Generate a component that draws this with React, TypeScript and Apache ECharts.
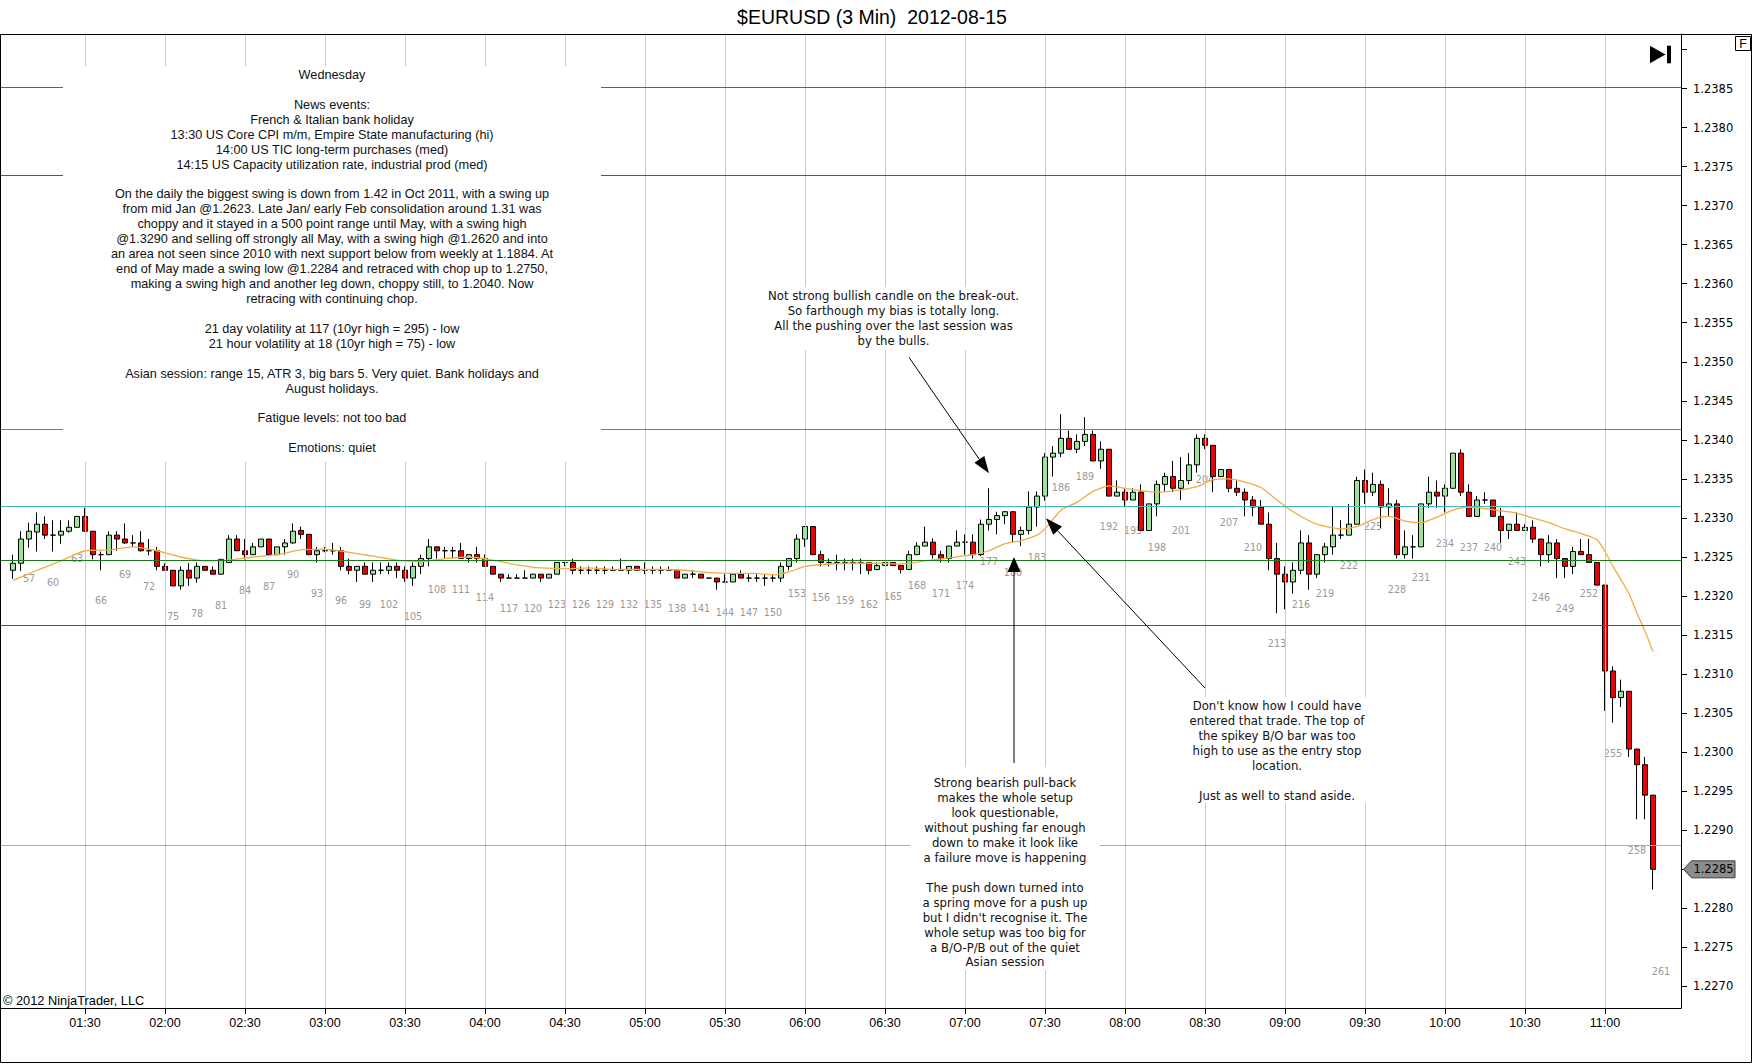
import React, { useEffect, useRef } from "react";
import * as echarts from "echarts";

// ---------- data ----------
const FIRST_BAR = 55; // bar number of OPEN[0]
const FIRST_CAT_BAR = 54; // bar number of first category
const CAT_COUNT = 210; // bars 54 .. 263
const START_MINUTES = 60; // 01:00 at bar 54
const BAR_MINUTES = 3;

const OPEN = [
  1.23233, 1.23242, 1.23273, 1.23282, 1.23292, 1.23278, 1.23278, 1.23283, 1.23288, 1.23302,
  1.23283, 1.23253, 1.23253, 1.23278, 1.23273, 1.23268, 1.23268, 1.23258, 1.23258, 1.23238,
  1.23233, 1.23213, 1.23233, 1.23223, 1.23238, 1.23233, 1.23228, 1.23243, 1.23273, 1.23258,
  1.23253, 1.23263, 1.23273, 1.23253, 1.23263, 1.23268, 1.23284, 1.23279, 1.23253, 1.23258,
  1.23258, 1.23258, 1.23238, 1.23233, 1.23238, 1.23228, 1.23233, 1.23233, 1.23238, 1.23233,
  1.23223, 1.23238, 1.23248, 1.23263, 1.23258, 1.23258, 1.23258, 1.23248, 1.23253, 1.23248,
  1.23238, 1.23228, 1.23223, 1.23223, 1.23223, 1.23223, 1.23228, 1.23223, 1.23228, 1.23243,
  1.23243, 1.23233, 1.23233, 1.23233, 1.23233, 1.23233, 1.23233, 1.23233, 1.23238, 1.23233,
  1.23233, 1.23233, 1.23233, 1.23233, 1.23223, 1.23228, 1.23228, 1.23223, 1.23223, 1.23218,
  1.23218, 1.23228, 1.23223, 1.23223, 1.23223, 1.23223, 1.23223, 1.23238, 1.23248, 1.23273,
  1.23289, 1.23253, 1.23243, 1.23243, 1.23243, 1.23243, 1.23243, 1.23243, 1.23234, 1.23239,
  1.23243, 1.23239, 1.23234, 1.23253, 1.23264, 1.23269, 1.23253, 1.23248, 1.23264, 1.23269,
  1.23269, 1.23253, 1.23292, 1.23298, 1.23303, 1.23308, 1.23279, 1.23284, 1.23314, 1.23328,
  1.23378, 1.23383, 1.23402, 1.23388, 1.23398, 1.23407, 1.23373, 1.23388, 1.23328, 1.23333,
  1.23323, 1.23333, 1.23284, 1.23318, 1.23343, 1.23353, 1.23338, 1.23348, 1.23368, 1.23402,
  1.23393, 1.23353, 1.23362, 1.23338, 1.23333, 1.23323, 1.23314, 1.23292, 1.23248, 1.23228,
  1.23218, 1.23233, 1.23268, 1.23228, 1.23253, 1.23263, 1.23278, 1.23278, 1.23292, 1.23348,
  1.23333, 1.23343, 1.23314, 1.23318, 1.23253, 1.23263, 1.23263, 1.23318, 1.23333, 1.23328,
  1.23338, 1.23383, 1.23333, 1.23302, 1.23323, 1.23323, 1.23302, 1.23284, 1.23292, 1.23284,
  1.23288, 1.23273, 1.23253, 1.23268, 1.23248, 1.23238, 1.23257, 1.23253, 1.23243, 1.23214,
  1.23104, 1.2307, 1.23078, 1.23004, 1.22984, 1.22945,
];

const CLOSE = [
  1.23242, 1.23273, 1.23283, 1.23292, 1.23278, 1.23278, 1.23283, 1.23288, 1.23302, 1.23283,
  1.23253, 1.23253, 1.23278, 1.23273, 1.23268, 1.23268, 1.23258, 1.23258, 1.23238, 1.23233,
  1.23213, 1.23233, 1.23223, 1.23238, 1.23233, 1.23228, 1.23247, 1.23273, 1.23258, 1.23253,
  1.23263, 1.23273, 1.23253, 1.23263, 1.23268, 1.23283, 1.23279, 1.23253, 1.23258, 1.23258,
  1.23258, 1.23238, 1.23233, 1.23238, 1.23228, 1.23233, 1.23233, 1.23238, 1.23233, 1.23223,
  1.23238, 1.23248, 1.23263, 1.23258, 1.23258, 1.23258, 1.23248, 1.23253, 1.23248, 1.23238,
  1.23228, 1.23223, 1.23223, 1.23223, 1.23223, 1.23228, 1.23223, 1.23228, 1.23243, 1.23243,
  1.23233, 1.23233, 1.23233, 1.23233, 1.23233, 1.23233, 1.23233, 1.23238, 1.23233, 1.23233,
  1.23233, 1.23233, 1.23233, 1.23223, 1.23228, 1.23228, 1.23223, 1.23223, 1.23218, 1.23218,
  1.23228, 1.23223, 1.23223, 1.23223, 1.23223, 1.23223, 1.23238, 1.23248, 1.23273, 1.23289,
  1.23253, 1.23243, 1.23243, 1.23243, 1.23243, 1.23243, 1.23243, 1.23233, 1.23239, 1.23243,
  1.23239, 1.23234, 1.23253, 1.23264, 1.23269, 1.23253, 1.23248, 1.23264, 1.23269, 1.23269,
  1.23253, 1.23292, 1.23298, 1.23303, 1.23308, 1.23279, 1.23284, 1.23314, 1.23328, 1.23378,
  1.23383, 1.23402, 1.23388, 1.23398, 1.23407, 1.23373, 1.23388, 1.23328, 1.23333, 1.23323,
  1.23333, 1.23284, 1.23318, 1.23343, 1.23353, 1.23338, 1.23348, 1.23368, 1.23402, 1.23393,
  1.23353, 1.23362, 1.23338, 1.23333, 1.23323, 1.23314, 1.23292, 1.23248, 1.23228, 1.23218,
  1.23233, 1.23268, 1.23228, 1.23253, 1.23263, 1.23278, 1.23278, 1.23292, 1.23348, 1.23333,
  1.23343, 1.23314, 1.23318, 1.23253, 1.23263, 1.23263, 1.23318, 1.23333, 1.23328, 1.23338,
  1.23383, 1.23333, 1.23302, 1.23323, 1.23323, 1.23302, 1.23284, 1.23292, 1.23284, 1.23288,
  1.23273, 1.23253, 1.23268, 1.23248, 1.23238, 1.23257, 1.23253, 1.23243, 1.23214, 1.23104,
  1.2307, 1.23078, 1.23004, 1.22984, 1.22945, 1.2285,
];

const HIGH = [
  1.23253, 1.23283, 1.23294, 1.23307, 1.23302, 1.23297, 1.23297, 1.23297, 1.23302, 1.23313,
  1.23283, 1.23257, 1.23283, 1.23283, 1.23293, 1.23278, 1.23283, 1.23273, 1.23263, 1.23242,
  1.23233, 1.23238, 1.23242, 1.23243, 1.23238, 1.23238, 1.23247, 1.23278, 1.23278, 1.23273,
  1.23268, 1.23273, 1.23273, 1.23263, 1.23273, 1.23293, 1.23289, 1.23279, 1.23263, 1.23263,
  1.23268, 1.23263, 1.23248, 1.23238, 1.23243, 1.23243, 1.23243, 1.23243, 1.23243, 1.23238,
  1.23243, 1.23253, 1.23273, 1.23263, 1.23263, 1.23263, 1.23268, 1.23253, 1.23263, 1.23253,
  1.23238, 1.23228, 1.23228, 1.23228, 1.23233, 1.23228, 1.23228, 1.23228, 1.23243, 1.23243,
  1.23248, 1.23238, 1.23238, 1.23238, 1.23238, 1.23238, 1.23248, 1.23238, 1.23238, 1.23243,
  1.23238, 1.23238, 1.23238, 1.23233, 1.23228, 1.23233, 1.23228, 1.23223, 1.23223, 1.23228,
  1.23228, 1.23233, 1.23228, 1.23228, 1.23228, 1.23228, 1.23243, 1.23248, 1.23279, 1.23289,
  1.23289, 1.23258, 1.23248, 1.23253, 1.23248, 1.23248, 1.23248, 1.23243, 1.23243, 1.23243,
  1.23243, 1.23239, 1.23258, 1.23269, 1.23289, 1.23274, 1.23258, 1.23264, 1.23284, 1.23279,
  1.23279, 1.23298, 1.23338, 1.23308, 1.23308, 1.23308, 1.23289, 1.23334, 1.23334, 1.23383,
  1.23392, 1.23433, 1.23412, 1.23407, 1.23429, 1.23412, 1.23398, 1.23388, 1.23348, 1.23338,
  1.23338, 1.23343, 1.23318, 1.23348, 1.23358, 1.23373, 1.23378, 1.23383, 1.23407, 1.23407,
  1.23393, 1.23362, 1.23362, 1.23348, 1.23338, 1.23328, 1.23323, 1.23307, 1.23268, 1.23238,
  1.23243, 1.23284, 1.23278, 1.23253, 1.23268, 1.23314, 1.23297, 1.23318, 1.23353, 1.23362,
  1.23358, 1.23348, 1.23338, 1.23323, 1.23284, 1.23278, 1.23318, 1.23353, 1.23348, 1.23343,
  1.23383, 1.23388, 1.23343, 1.23328, 1.23333, 1.23323, 1.23313, 1.23292, 1.23307, 1.23292,
  1.23297, 1.23273, 1.23278, 1.23273, 1.23248, 1.23263, 1.23273, 1.23273, 1.23243, 1.23214,
  1.2311, 1.23093, 1.23078, 1.23004, 1.22994, 1.22945,
];

const LOW = [
  1.23222, 1.23232, 1.23262, 1.23257, 1.23273, 1.23257, 1.23267, 1.23281, 1.23288, 1.23283,
  1.23247, 1.23233, 1.23253, 1.23258, 1.23267, 1.23263, 1.23257, 1.23252, 1.23233, 1.23233,
  1.23213, 1.23208, 1.23213, 1.23217, 1.23233, 1.23228, 1.23227, 1.23242, 1.23258, 1.23247,
  1.23253, 1.23263, 1.23252, 1.23253, 1.23253, 1.23267, 1.23273, 1.23253, 1.23243, 1.23256,
  1.23253, 1.23233, 1.23228, 1.23218, 1.23228, 1.23218, 1.23228, 1.23228, 1.23223, 1.23218,
  1.23213, 1.23228, 1.23238, 1.23248, 1.23248, 1.23248, 1.23248, 1.23243, 1.23243, 1.23238,
  1.23228, 1.23218, 1.23223, 1.23223, 1.23223, 1.23223, 1.23218, 1.23223, 1.23228, 1.23238,
  1.23228, 1.23228, 1.23228, 1.23228, 1.23228, 1.23233, 1.23233, 1.23228, 1.23233, 1.23228,
  1.23228, 1.23228, 1.23233, 1.23223, 1.23223, 1.23223, 1.23223, 1.23223, 1.23208, 1.23218,
  1.23218, 1.23223, 1.23218, 1.23218, 1.23213, 1.23218, 1.23218, 1.23233, 1.23243, 1.23263,
  1.23253, 1.23238, 1.23238, 1.23233, 1.23233, 1.23233, 1.23228, 1.23228, 1.23233, 1.23239,
  1.23239, 1.23229, 1.23234, 1.23253, 1.23264, 1.23248, 1.23243, 1.23243, 1.23264, 1.23253,
  1.23248, 1.23251, 1.23284, 1.23279, 1.23292, 1.23269, 1.23264, 1.23279, 1.23289, 1.23322,
  1.23353, 1.23378, 1.23388, 1.23383, 1.23392, 1.23373, 1.23363, 1.23328, 1.23328, 1.23314,
  1.23323, 1.23284, 1.23284, 1.23302, 1.23334, 1.23333, 1.23323, 1.23343, 1.23358, 1.23388,
  1.23333, 1.23353, 1.23333, 1.23328, 1.23302, 1.23302, 1.23292, 1.23233, 1.23178, 1.23183,
  1.23203, 1.23228, 1.23208, 1.23223, 1.23243, 1.23253, 1.23273, 1.23278, 1.23292, 1.23318,
  1.23328, 1.23287, 1.23302, 1.23248, 1.23248, 1.23248, 1.23263, 1.23313, 1.23313, 1.23307,
  1.23338, 1.23328, 1.23302, 1.23302, 1.23318, 1.23302, 1.23268, 1.23273, 1.23284, 1.23284,
  1.23268, 1.23238, 1.23243, 1.23223, 1.23223, 1.23228, 1.23253, 1.23243, 1.23214, 1.23053,
  1.23038, 1.23058, 1.22994, 1.22914, 1.22914, 1.22824,
];

// moving average (orange) at these bars
const MA_BARS = [
  55, 58, 61, 64, 67, 70, 73, 76, 79, 82, 85, 88, 91, 94, 97, 100, 103, 106, 109, 112, 115, 118,
  121, 124, 127, 130, 133, 136, 139, 142, 145, 148, 150, 152, 154, 157, 160, 163, 166, 169, 172,
  175, 177, 179, 181, 183, 184, 186, 188, 190, 192, 194, 196, 198, 201, 203, 205, 207, 209, 211,
  213, 215, 218, 221, 223, 225, 227, 229, 231, 233, 235, 237, 239, 241, 243, 245, 247, 249, 251,
  253, 254, 255, 256, 257, 258, 259, 260,
];
const MA_VALUES = [
  1.2322, 1.23233, 1.23245, 1.23258, 1.23259, 1.23263, 1.23258, 1.2325, 1.23245, 1.23246, 1.2325,
  1.23253, 1.23259, 1.2326, 1.23256, 1.23251, 1.23246, 1.23244, 1.23248, 1.2325, 1.23246, 1.2324,
  1.23236, 1.23235, 1.23236, 1.23234, 1.23234, 1.23234, 1.23233, 1.2323, 1.23229, 1.23229,
  1.23227, 1.23231, 1.23238, 1.23241, 1.23242, 1.23242, 1.23241, 1.23245, 1.23249, 1.23253,
  1.23258, 1.23267, 1.23271, 1.23278, 1.23286, 1.2331, 1.2332, 1.23334, 1.23341, 1.23338,
  1.23335, 1.23333, 1.23336, 1.2334, 1.23349, 1.2335, 1.23346, 1.23339, 1.23323, 1.23308,
  1.23292, 1.23286, 1.23289, 1.23298, 1.23302, 1.23296, 1.23294, 1.23301, 1.2331, 1.23314,
  1.23312, 1.23309, 1.23306, 1.233, 1.23294, 1.23286, 1.2328, 1.23272, 1.23257, 1.23238,
  1.23221, 1.23203, 1.23178, 1.23155, 1.23129,
];

// horizontal drawn levels
const H_LEVELS = [1.23852, 1.23739, 1.23414, 1.23315, 1.23246, 1.23163, 1.22881];
const H_COLORS = ["#238a35", "#237a2b", "#2f9d8c", "#46b8b4", "#1f7a1f", "#1f7a1f", "#86d82e"];

// y axis ticks / labels
const Y_TICKS = [
  1.227, 1.2275, 1.228, 1.2285, 1.229, 1.2295, 1.23, 1.2305, 1.231, 1.2315, 1.232, 1.2325, 1.233,
  1.2335, 1.234, 1.2345, 1.235, 1.2355, 1.236, 1.2365, 1.237, 1.2375, 1.238, 1.2385, 1.239,
];
const Y_LABELS = [
  1.227, 1.2275, 1.228, 1.2285, 1.229, 1.2295, 1.23, 1.2305, 1.231, 1.2315, 1.232, 1.2325, 1.233,
  1.2335, 1.234, 1.2345, 1.235, 1.2355, 1.236, 1.2365, 1.237, 1.2375, 1.238, 1.2385,
];
const Y_MIN = 1.226724;
const Y_MAX = 1.239198;

// bar-number label for the forming bar 261 (no candle yet)
const EXTRA_LABEL_BAR = 261;
const EXTRA_LABEL_ANCHOR = 1.22758;

const TITLE = "$EURUSD (3 Min)  2012-08-15";

const NOTE_MAIN = [
  "Wednesday",
  "",
  "News events:",
  "French & Italian bank holiday",
  "13:30 US Core CPI m/m, Empire State manufacturing (hi)",
  "14:00 US TIC long-term purchases (med)",
  "14:15 US Capacity utilization rate, industrial prod (med)",
  "",
  "On the daily the biggest swing is down from 1.42 in Oct 2011, with a swing up",
  "from mid Jan @1.2623. Late Jan/ early Feb consolidation around 1.31 was",
  "choppy and it stayed in a 500 point range until May, with a swing high",
  "@1.3290 and selling off strongly all May, with a swing high @1.2620 and into",
  "an area not seen since 2010 with next support below from weekly at 1.1884. At",
  "end of May made a swing low @1.2284 and retraced with chop up to 1.2750,",
  "making a swing high and another leg down, choppy still, to 1.2040. Now",
  "retracing with continuing chop.",
  "",
  "21 day volatility at 117 (10yr high = 295) - low",
  "21 hour volatility at 18 (10yr high = 75) - low",
  "",
  "Asian session: range 15, ATR 3, big bars 5. Very quiet. Bank holidays and",
  "August holidays.",
  "",
  "Fatigue levels: not too bad",
  "",
  "Emotions: quiet",
];
const NOTE_BREAKOUT = [
  "Not strong bullish candle on the break-out.",
  "So farthough my bias is totally long.",
  "All the pushing over the last session was",
  "by the bulls.",
];
const NOTE_ENTRY = [
  "Don't know how I could have",
  "entered that trade. The top of",
  "the spikey B/O bar was too",
  "high to use as the entry stop",
  "location.",
  "",
  "Just as well to stand aside.",
];
const NOTE_PULLBACK = [
  "Strong bearish pull-back",
  "makes the whole setup",
  "look questionable,",
  "without pushing far enough",
  "down to make it look like",
  "a failure move is happening",
  "",
  "The push down turned into",
  "a spring move for a push up",
  "but I didn't recognise it. The",
  "whole setup was too big for",
  "a B/O-P/B out of the quiet",
  "Asian session",
];

const W = 1752;
const H = 1064;

function pad(n: number) {
  return n < 10 ? "0" + n : String(n);
}
function catOf(bar: number) {
  const m = START_MINUTES + (bar - FIRST_CAT_BAR) * BAR_MINUTES;
  return pad(Math.floor(m / 60)) + ":" + pad(m % 60);
}

function arrow(x1: number, y1: number, x2: number, y2: number, len: number, half: number) {
  const dx = x2 - x1;
  const dy = y2 - y1;
  const L = Math.sqrt(dx * dx + dy * dy);
  const ux = dx / L;
  const uy = dy / L;
  const bx = x2 - ux * len;
  const by = y2 - uy * len;
  const px = -uy * half;
  const py = ux * half;
  return [
    {
      type: "line",
      z: 110,
      shape: { x1, y1, x2: bx, y2: by },
      style: { stroke: "#000", lineWidth: 1 },
    },
    {
      type: "polygon",
      z: 110,
      shape: {
        points: [
          [x2, y2],
          [bx + px, by + py],
          [bx - px, by - py],
        ],
      },
      style: { fill: "#000" },
    },
  ];
}

function note(lines: string[], cx: number, firstLineY: number, lh: number, font: string, size: number) {
  return {
    type: "text",
    z: 105,
    x: cx,
    y: firstLineY - lh / 2,
    style: {
      text: lines.join("\n"),
      align: "center",
      verticalAlign: "top",
      lineHeight: lh,
      fontSize: size,
      fontFamily: font,
      fill: "#111",
    },
  };
}

function whiteBox(x: number, y: number, w: number, h: number) {
  return { type: "rect", z: 100, shape: { x, y, width: w, height: h }, style: { fill: "#fff" } };
}

export default function App() {
  const ref = useRef<HTMLDivElement>(null);

  useEffect(() => {
    const el = ref.current;
    if (!el) return;
    const chart = echarts.init(el, null, { renderer: "svg", width: W, height: H });

    const categories: string[] = [];
    for (let i = 0; i < CAT_COUNT; i++) categories.push(catOf(FIRST_CAT_BAR + i));

    const candleData = OPEN.map((o, i) => [
      FIRST_BAR + i - FIRST_CAT_BAR,
      o,
      CLOSE[i],
      LOW[i],
      HIGH[i],
    ]);

    const maData = MA_BARS.map((b, i) => [catOf(b), MA_VALUES[i]]);

    const labelData: any[] = [];
    for (let n = 57; n <= FIRST_BAR + OPEN.length - 1; n += 3) {
      labelData.push({ name: String(n), value: [catOf(n), LOW[n - FIRST_BAR]] });
    }
    labelData.push({ name: String(EXTRA_LABEL_BAR), value: [catOf(EXTRA_LABEL_BAR), EXTRA_LABEL_ANCHOR] });

    const isTimeLabel = (index: number, value: string) =>
      index > 0 && (value.endsWith(":00") || value.endsWith(":30"));

    const gridLines = categories
      .filter((c, i) => isTimeLabel(i, c))
      .map((c) => ({ xAxis: c }));
    const levelLines = H_LEVELS.map((v, i) => ({
      yAxis: v,
      lineStyle: { color: H_COLORS[i], width: 1.1, type: "solid", opacity: 1 },
    }));

    const baseGraphic: any[] = [
      // outer frame
      {
        type: "rect",
        z: 120,
        shape: { x: 0.5, y: 34.5, width: 1751, height: 1028 },
        style: { fill: "none", stroke: "#000", lineWidth: 1 },
      },
      {
        type: "text",
        z: 120,
        x: 872,
        y: 17,
        style: {
          text: TITLE,
          align: "center",
          verticalAlign: "middle",
          fontSize: 19.5,
          fontFamily: "Liberation Sans",
          fill: "#000",
        },
      },
      {
        type: "text",
        z: 120,
        x: 3,
        y: 1000,
        style: {
          text: "\u00a9 2012 NinjaTrader, LLC",
          align: "left",
          verticalAlign: "middle",
          fontSize: 12.8,
          fontFamily: "Liberation Sans",
          fill: "#000",
        },
      },
      // "go to end" icon
      {
        type: "polygon",
        z: 120,
        shape: {
          points: [
            [1650, 45.7],
            [1650, 63.3],
            [1665.5, 54.5],
          ],
        },
        style: { fill: "#000" },
      },
      { type: "rect", z: 120, shape: { x: 1667, y: 45.7, width: 4, height: 17.6 }, style: { fill: "#000" } },
      // F box
      {
        type: "rect",
        z: 120,
        shape: { x: 1735.5, y: 36.5, width: 15, height: 14 },
        style: { fill: "#fff", stroke: "#000", lineWidth: 1 },
      },
      {
        type: "text",
        z: 121,
        x: 1743,
        y: 44,
        style: {
          text: "F",
          align: "center",
          verticalAlign: "middle",
          fontSize: 12.5,
          fontFamily: "Liberation Sans",
          fill: "#000",
        },
      },
      // annotation boxes
      whiteBox(63, 66.5, 538, 395),
      note(NOTE_MAIN, 332, 75, 14.93, "Liberation Sans", 12.7),
      whiteBox(765, 287, 257, 63),
      note(NOTE_BREAKOUT, 893.5, 296, 15, "DejaVu Sans", 11.7),
      whiteBox(1186, 697, 182, 106),
      note(NOTE_ENTRY, 1277, 706, 14.93, "DejaVu Sans", 11.7),
      whiteBox(910, 767, 190, 203),
      note(NOTE_PULLBACK, 1005, 783.3, 14.93, "DejaVu Sans", 11.7),
      ...arrow(909, 357.3, 989, 473.3, 17, 6),
      ...arrow(1014, 763, 1014, 557, 15, 6.5),
      ...arrow(1205, 688, 1046, 518.3, 17, 6),
    ];

    const option: any = {
      animation: false,
      backgroundColor: "#fff",
      grid: {
        left: 1,
        top: 34,
        width: 1680,
        height: 974,
        show: false,
        containLabel: false,
        outerBoundsMode: "none",
      },
      xAxis: {
        type: "category",
        data: categories,
        boundaryGap: true,
        axisLine: { show: true, lineStyle: { color: "#000", width: 1 } },
        axisTick: {
          show: true,
          alignWithLabel: true,
          interval: isTimeLabel,
          length: 6,
          lineStyle: { color: "#000" },
        },
        axisLabel: {
          interval: isTimeLabel,
          color: "#000",
          fontFamily: "Liberation Sans",
          fontSize: 12.5,
          margin: 8,
        },
        splitLine: { show: false },
      },
      yAxis: {
        type: "value",
        position: "right",
        min: Y_MIN,
        max: Y_MAX,
        scale: true,
        axisLine: { show: true, lineStyle: { color: "#000", width: 1 } },
        axisTick: { show: true, length: 6, customValues: Y_TICKS, lineStyle: { color: "#000" } },
        axisLabel: {
          customValues: Y_LABELS,
          formatter: (v: number) => v.toFixed(4),
          color: "#000",
          fontFamily: "DejaVu Sans",
          fontSize: 11.5,
          margin: 12,
        },
        splitLine: { show: false },
      },
      series: [
        {
          type: "scatter",
          name: "barNumbers",
          z: 1,
          symbol: "circle",
          symbolSize: 1,
          silent: true,
          itemStyle: { color: "rgba(0,0,0,0)" },
          data: labelData,
          label: {
            show: true,
            position: "inside",
            offset: [0, 30.7],
            formatter: "{b}",
            color: "#7a7a7a",
            fontFamily: "DejaVu Sans",
            fontSize: 9.6,
          },
          markLine: {
            silent: true,
            precision: 6,
            symbol: ["none", "none"],
            label: { show: false },
            lineStyle: { color: "#cacaca", width: 1, type: "solid" },
            data: [...gridLines, ...levelLines],
          },
        },
        {
          type: "candlestick",
          name: "EURUSD",
          z: 2,
          barWidth: 6,
          encode: { x: 0, y: [1, 2, 3, 4] },
          data: candleData,
          itemStyle: {
            color: "#9ae59a",
            color0: "#ee0000",
            borderColor: "#000",
            borderColor0: "#000",
            borderColorDoji: "#000",
            borderWidth: 1,
          },
        },
        {
          type: "line",
          name: "MA",
          z: 3,
          data: maData,
          showSymbol: false,
          symbol: "none",
          smooth: 0.2,
          lineStyle: { color: "#efad42", width: 1.3 },
        },
      ],
      graphic: baseGraphic,
    };

    chart.setOption(option);

    const lastClose = CLOSE[CLOSE.length - 1];
    const yLast = chart.convertToPixel({ yAxisIndex: 0 }, lastClose) as number;
    const tag: any[] = [
      {
        type: "polygon",
        z: 120,
        shape: {
          points: [
            [1683.5, yLast],
            [1691.5, yLast - 8.5],
            [1735, yLast - 8.5],
            [1735, yLast + 8.5],
            [1691.5, yLast + 8.5],
          ],
        },
        style: { fill: "#8c8c8c", stroke: "#3c3c3c", lineWidth: 1 },
      },
      {
        type: "text",
        z: 121,
        x: 1713.5,
        y: yLast,
        style: {
          text: lastClose.toFixed(4),
          align: "center",
          verticalAlign: "middle",
          fontSize: 11.5,
          fontFamily: "DejaVu Sans",
          fill: "#000",
        },
      },
    ];
    chart.setOption({ graphic: [...baseGraphic, ...tag] });

    return () => {
      chart.dispose();
    };
  }, []);

  return (
    <div
      ref={ref}
      style={{ position: "fixed", left: 0, top: 0, width: W, height: H, background: "#fff" }}
    />
  );
}
